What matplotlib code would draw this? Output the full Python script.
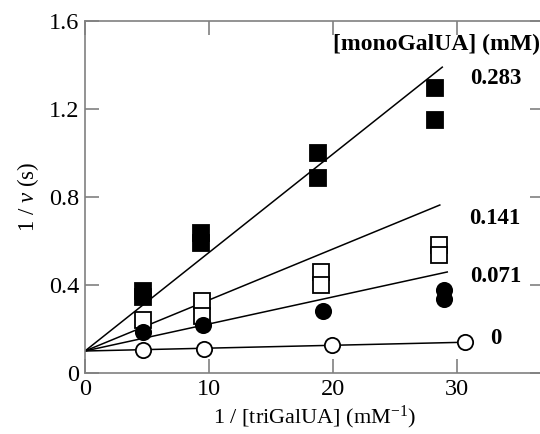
import matplotlib
matplotlib.use("Agg")
import matplotlib.pyplot as plt
import numpy as np

plt.rcParams['font.family'] = ['Liberation Serif', 'DejaVu Serif']
plt.rcParams['mathtext.fontset'] = 'custom'
plt.rcParams['mathtext.rm'] = 'Liberation Serif'
plt.rcParams['mathtext.it'] = 'Liberation Serif:italic'

# Data: [monoGalUA] series
conc_labels = ["0.283", "0.141", "0.071", "0"]

x_0283 = [4.7, 4.7, 9.35, 9.35, 18.8, 18.8, 28.2, 28.2]
y_0283 = [0.375, 0.345, 0.635, 0.59, 1.0, 0.886, 1.295, 1.15]

x_0141 = [4.7, 9.4, 9.4, 19.0, 19.0, 28.5, 28.5]
y_0141 = [0.24, 0.327, 0.26, 0.46, 0.40, 0.58, 0.535]

x_0071 = [4.7, 9.5, 19.2, 28.9, 28.9]
y_0071 = [0.185, 0.22, 0.283, 0.377, 0.337]

x_0 = [4.7, 9.6, 19.9, 30.6]
y_0 = [0.105, 0.107, 0.127, 0.14]

# fitted lines: intercept, slope, end x
fit_intercept = [0.10, 0.10, 0.10, 0.10]
fit_slope = [0.0448, 0.0232, 0.0123, 0.0013]
fit_xend = [28.8, 28.6, 29.2, 30.6]

xticks = [0, 10, 20, 30]
yticks = [0, 0.4, 0.8, 1.2, 1.6]

fig = plt.figure(figsize=(5.4, 4.34), dpi=100)
W, H = 540, 434
x0px, x1px = 85, 544
y0px, y1px = 373, 21
ax = fig.add_axes([x0px / W, (H - y0px) / H, (x1px - x0px) / W, (y0px - y1px) / H])
ax.set_xlim(0, 37)
ax.set_ylim(0, 1.6)

for b, m, xe in zip(fit_intercept, fit_slope, fit_xend):
    xs = np.array([0, xe])
    ax.plot(xs, b + m * xs, color='black', lw=1.1, zorder=2)

ms = 11
mew = 1.3
ax.plot(x_0283, y_0283, 's', ms=ms, mfc='black', mec='black', mew=mew, zorder=3, clip_on=False)
ax.plot(x_0141, y_0141, 's', ms=ms, mfc='white', mec='black', mew=mew, zorder=3, clip_on=False)
ax.plot(x_0071, y_0071, 'o', ms=ms, mfc='black', mec='black', mew=mew, zorder=4, clip_on=False)
ax.plot(x_0, y_0, 'o', ms=ms, mfc='white', mec='black', mew=mew, zorder=4, clip_on=False)

spine_col = '#808080'
for s in ax.spines.values():
    s.set_color(spine_col)
    s.set_linewidth(1.2)

ax.set_xticks(xticks)
ax.set_yticks(yticks)
ax.set_xticklabels([str(t) for t in xticks])
ax.set_yticklabels(["0", "0.4", "0.8", "1.2", "1.6"])
ax.tick_params(direction='in', length=10, width=1.2, color=spine_col,
               top=True, right=True, labelsize=17.5, pad=4)

ax.set_xlabel(r'1 / [triGalUA] (mM$^{\mathregular{-1}}$)', fontsize=16, labelpad=3)
ax.set_ylabel(r'1 / $\it{v}$ (s)', fontsize=16.5, labelpad=6)

# labels in figure pixel coordinates
def fpx(x, y):
    return x / W, 1 - y / H

fig.text(*fpx(333, 44), '[monoGalUA] (mM)', fontsize=17, fontweight='bold', va='center', ha='left')
label_pos = [(470, 78), (469, 218), (470, 277), (490, 339)]
for lab, (px, py) in zip(conc_labels, label_pos):
    fig.text(*fpx(px, py), lab, fontsize=16.5, fontweight='bold', va='center', ha='left')

fig.savefig('out.png', dpi=100)
